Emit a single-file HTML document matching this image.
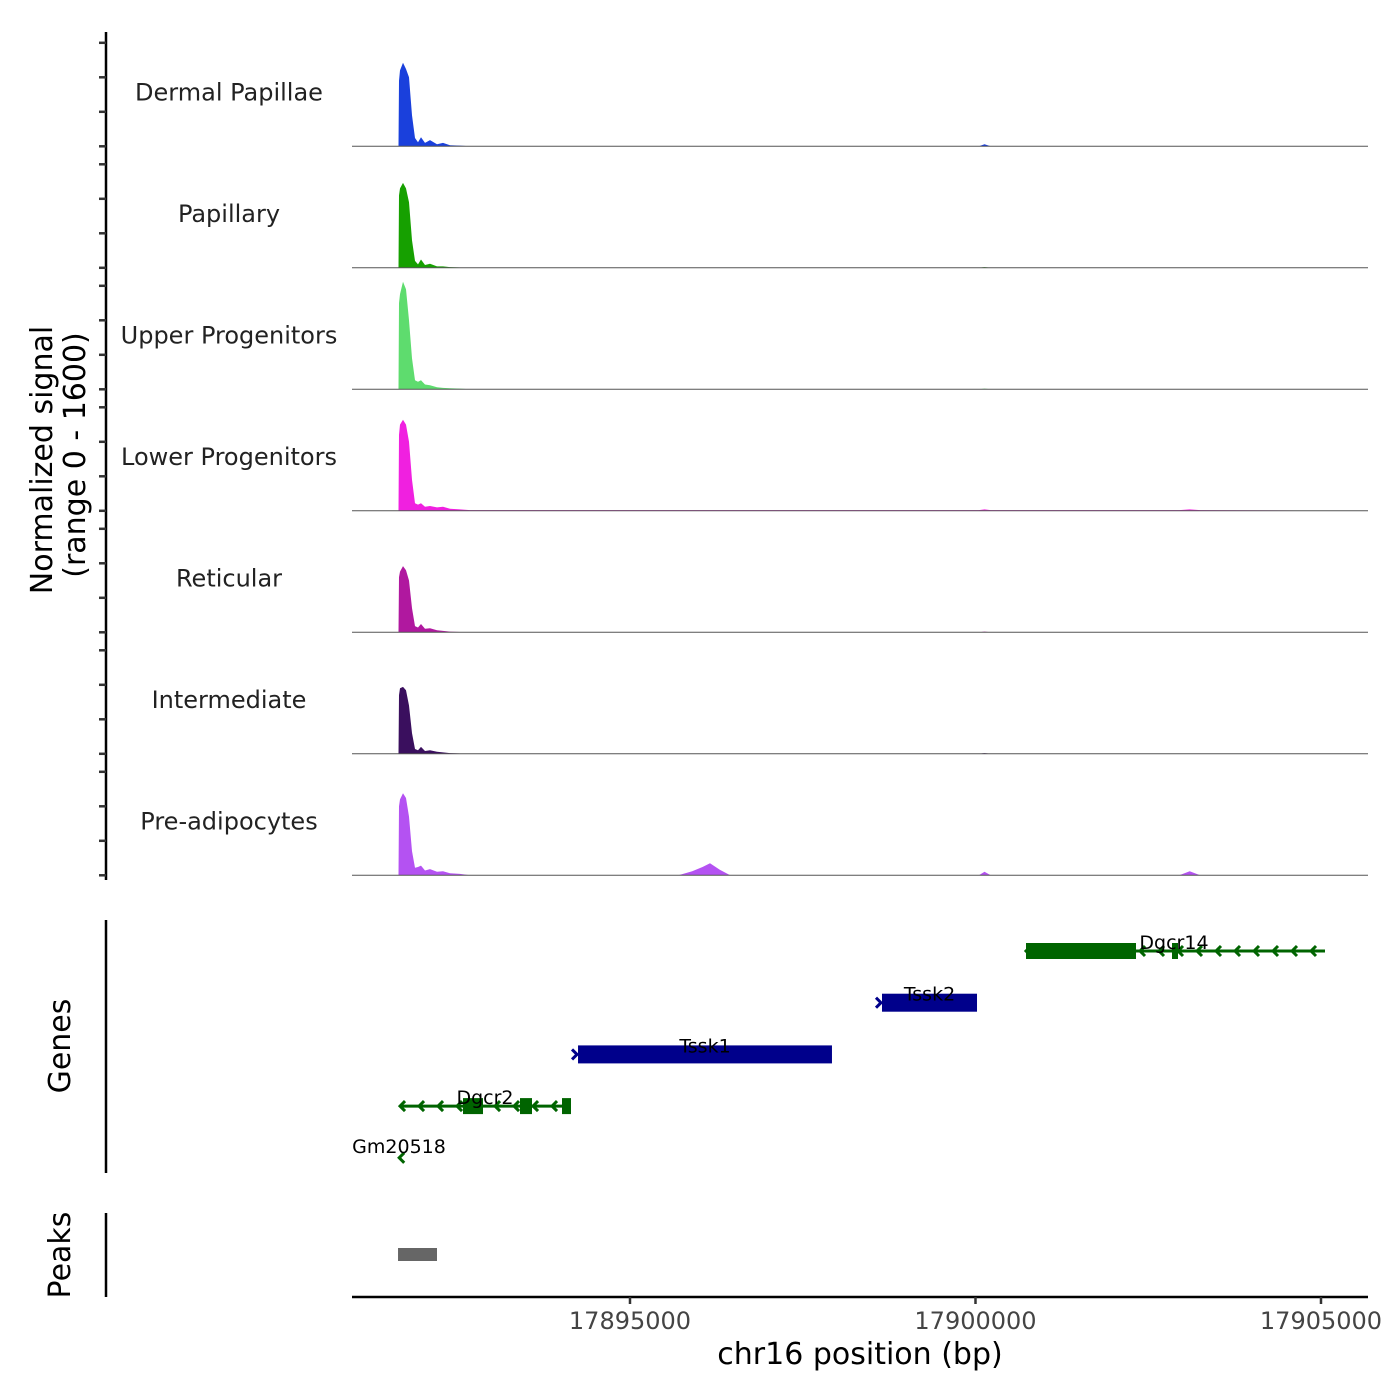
<!DOCTYPE html>
<html><head><meta charset="utf-8"><style>
html,body{margin:0;padding:0;background:#fff;}
svg{display:block;font-family:"DejaVu Sans","Liberation Sans",sans-serif;}
</style></head><body>
<svg id="chart" width="1400" height="1400" viewBox="0 0 1400 1400"></svg>
<script>
const bins = [17891650,17891657,17891672,17891715,17891758,17891802,17891845,17891889,17891932,17891976,17892033,17892106,17892207,17892294,17892395,17892540,17892685,17895700,17895900,17896050,17896158,17896300,17896450,17900050,17900130,17900220,17902950,17903100,17903250,17905400];
const trackNames = ["Dermal Papillae","Papillary","Upper Progenitors","Lower Progenitors","Reticular","Intermediate","Pre-adipocytes"];
const trackColors = ["#1a40dc","#16a000","#5edc6e","#f020e0","#b0189f","#3a0f5e","#b452f2"];
const dermal = [0,950,1100,1210,1120,1000,450,120,60,130,50,90,30,50,15,10,0,0,0,0,0,0,0,0,30,0,0,0,0,0];
const papillary = [0,1050,1150,1230,1150,950,400,100,50,120,40,60,20,20,10,5,0,0,0,0,0,0,0,0,10,0,0,0,0,0];
const upper = [0,1250,1380,1560,1450,1000,450,130,110,130,70,60,30,20,15,10,0,0,0,0,0,0,0,0,10,0,0,0,0,0];
const lower = [0,1100,1250,1320,1250,1000,450,110,90,110,60,70,50,60,30,20,10,10,10,10,10,10,10,10,20,10,10,20,10,0];
const reticular = [0,800,880,960,900,750,350,90,70,120,50,60,30,20,10,5,0,0,0,0,0,0,0,0,10,0,0,0,0,0];
const intermediate = [0,850,950,970,920,700,300,70,50,100,40,50,30,20,10,5,0,0,0,0,0,0,0,0,10,0,0,0,0,0];
const preadipo = [0,1000,1100,1190,1120,850,350,110,120,140,70,90,50,60,30,20,0,0,60,120,175,80,0,0,50,0,0,60,0,0];
const trackValues = [dermal,papillary,upper,lower,reticular,intermediate,preadipo];
const yTicks = [0,500,1000,1500];
const xTicks = [17895000,17900000,17905000];
const geneNames = ["Dgcr14","Tssk2","Tssk1","Dgcr2","Gm20518"];
const geneStarts = [17900731,17898647,17894248,17891672,17891660];
const geneEnds = [17905058,17900022,17897923,17894132,17891720];
const geneStrands = [-1,1,1,-1,-1];
const peakStarts = [17891643];
const peakEnds = [17892207];

const svg=document.getElementById('chart');
const NS="http://www.w3.org/2000/svg";
function mk(tag,attrs,parent){const e=document.createElementNS(NS,tag);for(const k in attrs)e.setAttribute(k,attrs[k]);(parent||svg).appendChild(e);return e;}
const x0=352,x1=1368,bp0=17890977,pxPerBp=0.0691;
const xs=b=>x0+(b-bp0)*pxPerBp;
const panelH=121.5, firstBottom=146.3, yScale=34.5/500;

let e=mk('line',{x1:106,y1:32,x2:106,y2:880,stroke:'#000','stroke-width':2.5});


trackNames.forEach((nm,i)=>{
  const bottom=firstBottom+i*panelH;
  const g=mk('g',{});
  
  
  const vals=trackValues[i];
  let d='M'+xs(bins[0])+','+bottom;
  bins.forEach((b,j)=>{d+=' L'+xs(b).toFixed(1)+','+(bottom-vals[j]*yScale).toFixed(1);});
  d+=' L'+xs(bins[bins.length-1])+','+bottom+' Z';
  const a=mk('path',{d:d,fill:trackColors[i]},g);
  
  const bl=mk('line',{x1:x0,x2:x1,y1:bottom,y2:bottom,stroke:'#555','stroke-width':1},g);
  
  const t=mk('text',{x:229,y:bottom-46,'text-anchor':'middle','font-size':24,fill:'#222'},g);
  t.textContent=nm;
  yTicks.forEach(v=>{const tk=mk('line',{x1:99,x2:106,y1:bottom-v*yScale,y2:bottom-v*yScale,stroke:'#333','stroke-width':2.5},g);
    });
});
e=mk('text',{transform:'translate(52,460) rotate(-90)','text-anchor':'middle','font-size':30,fill:'#000'});
e.textContent='Normalized signal';
e=mk('text',{transform:'translate(85,455) rotate(-90)','text-anchor':'middle','font-size':30,fill:'#000'});
e.textContent='(range 0 - 1600)';

e=mk('line',{x1:106,y1:920,x2:106,y2:1173,stroke:'#000','stroke-width':2.5});

e=mk('text',{transform:'translate(70,1046) rotate(-90)','text-anchor':'middle','font-size':30,fill:'#000'});
e.textContent='Genes';
const geneColors={"-1":"#006400","1":"#00008b"};
geneNames.forEach((name,row)=>{
  const y=951+row*51.7;
  const col=geneColors[geneStrands[row]];
  const g=mk('g',{});
  
  
  const sx=xs(geneStarts[row]),ex=xs(geneEnds[row]);
  if(name==='Gm20518'){
    mk('path',{d:`M${sx+5},${y-5} L${sx},${y} L${sx+5},${y+5}`,stroke:col,'stroke-width':3,fill:'none'},g);
  } else if(geneStrands[row]>0){
    mk('rect',{x:sx,y:y-9,width:ex-sx,height:18,fill:col},g);
    mk('path',{d:`M${sx-6},${y-5} L${sx-1},${y} L${sx-6},${y+5}`,stroke:col,'stroke-width':3,fill:'none'},g);
  } else {
    mk('line',{x1:sx,x2:ex,y1:y,y2:y,stroke:col,'stroke-width':3},g);
    for(let ax=sx;ax<ex-8;ax+=19){mk('path',{d:`M${ax+5},${y-5} L${ax},${y} L${ax+5},${y+5}`,stroke:col,'stroke-width':3,fill:'none'},g);}
    if(name==='Dgcr14'){mk('rect',{x:sx,y:y-8,width:110,height:16,fill:col},g);mk('rect',{x:1172,y:y-8,width:6,height:16,fill:col},g);}
    if(name==='Dgcr2'){mk('rect',{x:463,y:y-8,width:20,height:16,fill:col},g);mk('rect',{x:520,y:y-8,width:12,height:16,fill:col},g);mk('rect',{x:562,y:y-8,width:9,height:16,fill:col},g);}
  }
  const tx=name==='Gm20518'?399:(name==='Dgcr14'?1174:(name==='Dgcr2'?485:(sx+ex)/2));
  const t=mk('text',{x:tx,y:name==='Gm20518'?y-5:y-2,'text-anchor':'middle','font-size':19,fill:'#000'},g);
  t.textContent=name;
});

e=mk('line',{x1:106,y1:1213,x2:106,y2:1297,stroke:'#000','stroke-width':2.5});

e=mk('text',{transform:'translate(70,1255) rotate(-90)','text-anchor':'middle','font-size':30,fill:'#000'});
e.textContent='Peaks';
peakStarts.forEach((p,i)=>{const r=mk('rect',{x:xs(p),y:1248,width:xs(peakEnds[i])-xs(p),height:13,fill:'#666'});
  });

e=mk('line',{x1:x0,x2:x1,y1:1297,y2:1297,stroke:'#000','stroke-width':2.5});

xTicks.forEach(v=>{
  const tk=mk('line',{x1:xs(v),x2:xs(v),y1:1297,y2:1304,stroke:'#333','stroke-width':2.5});
  
  const t=mk('text',{x:xs(v),y:1329,'text-anchor':'middle','font-size':24,fill:'#444'});
  t.textContent=v;
});
e=mk('text',{x:860,y:1364,'text-anchor':'middle','font-size':30,fill:'#000'});
e.textContent='chr16 position (bp)';
</script>
</body></html>
